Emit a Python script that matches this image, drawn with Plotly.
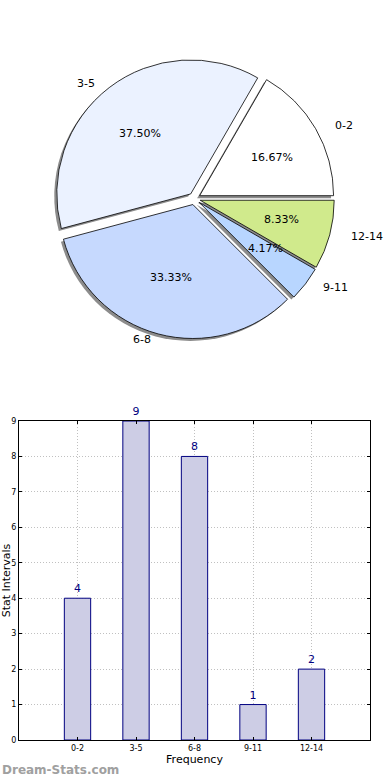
import math
import plotly.graph_objects as go

categories = ["0-2", "3-5", "6-8", "9-11", "12-14"]
counts = [4, 9, 8, 1, 2]
pie_colors = ["#FFFFFF", "#EBF2FF", "#C6D9FE", "#B8D6FF", "#D0EA8C"]
y_ticks = [0, 1, 2, 3, 4, 5, 6, 7, 8, 9]

W, H = 390, 780
total = sum(counts)
pull = [0.045] * len(counts)
# plotly counterclockwise pies anchor the end of the first slice at the rotation angle
rot = 90 - 360 * counts[0] / total

# pie geometry (pixels)
cx, cy, half = 194.4, 198.7, 140
rx, ry, pull_px = 140.5, 127.5, 5.5
def dom(dx=0, dy=0):
    return dict(x=[(cx - half + dx) / W, (cx + half + dx) / W],
                y=[1 - (cy + half + dy) / H, 1 - (cy - half + dy) / H])

fig = go.Figure()

common = dict(labels=categories, values=counts, sort=False,
              direction="counterclockwise", rotation=rot, showlegend=False)

# shadow
fig.add_trace(go.Pie(**common, pull=pull,
                     marker=dict(colors=["#8C8C8C"] * 5, line=dict(width=0)),
                     textinfo="none", hoverinfo="skip", domain=dom(-2.5, 2.5)))
# main pie
fig.add_trace(go.Pie(**common, pull=pull,
                     marker=dict(colors=pie_colors, line=dict(color="black", width=0.8)),
                     textinfo="none", domain=dom()))

# pie texts: percentages at 0.6 radius, labels at 1.1 radius (matplotlib style)
annotations = []
start = 0.0
for cat, v in zip(categories, counts):
    span = 360.0 * v / total
    th = math.radians(start + span / 2)
    start += span
    c, s = math.cos(th), math.sin(th)
    ox, oy = cx + pull_px * c, cy - pull_px * s
    px, py = ox + 0.6 * rx * c, oy - 0.6 * ry * s
    annotations.append(dict(text=f"{100 * v / total:.2f}%", xref="paper", yref="paper",
                            x=px / W, y=1 - py / H, xanchor="center", yanchor="middle",
                            showarrow=False,
                            font=dict(family="DejaVu Sans", size=11, color="black")))
    lx, ly = ox + 1.1 * rx * c, oy - 1.1 * ry * s
    annotations.append(dict(text=cat, xref="paper", yref="paper",
                            x=lx / W, y=1 - ly / H,
                            xanchor="left" if c > 0 else "right", yanchor="middle",
                            showarrow=False,
                            font=dict(family="DejaVu Sans", size=11, color="black")))

annotations.append(dict(text="<b>Dream-Stats.com</b>", xref="paper", yref="paper",
                        x=0, y=1 - 770 / H, xanchor="left", yanchor="middle", showarrow=False,
                        font=dict(family="DejaVu Sans", size=12, color="#A0A0A0")))

# bar chart
fig.add_trace(go.Bar(x=list(range(len(categories))), y=counts, width=0.45,
                     marker=dict(color="#CDCDE5", line=dict(color="#000080", width=1)),
                     text=[str(v) for v in counts], textposition="outside",
                     textfont=dict(family="DejaVu Sans", size=11, color="#000080"),
                     cliponaxis=False, showlegend=False,
                     xaxis="x", yaxis="y"))

axis_common = dict(
    showgrid=True, gridcolor="#C0C0C0", griddash="1px,2px", gridwidth=1,
    showline=True, linecolor="black", linewidth=1, mirror="ticks",
    ticks="inside", ticklen=3, tickcolor="black",
    zeroline=False, layer="above traces", automargin=False,
    tickfont=dict(family="DejaVu Sans", size=8, color="black"),
)

fig.update_layout(
    width=W, height=H,
    margin=dict(l=0, r=0, t=0, b=0),
    paper_bgcolor="white", plot_bgcolor="white",
    xaxis=dict(domain=[19 / W, 370 / W], range=[-1, 5],
               tickmode="array", tickvals=list(range(len(categories))), ticktext=categories,
               title=dict(text="Frequency", font=dict(family="DejaVu Sans", size=11, color="black"), standoff=2),
               **axis_common),
    yaxis=dict(domain=[1 - 740 / H, 1 - 421 / H], range=[0, 9],
               tickmode="array", tickvals=y_ticks,
               title=dict(text="Stat Intervals", font=dict(family="DejaVu Sans", size=11, color="black"), standoff=4),
               **axis_common),
    annotations=annotations,
)

fig.write_html("out.html", config={"displayModeBar": False},
               post_script="document.body.style.margin='0';")
